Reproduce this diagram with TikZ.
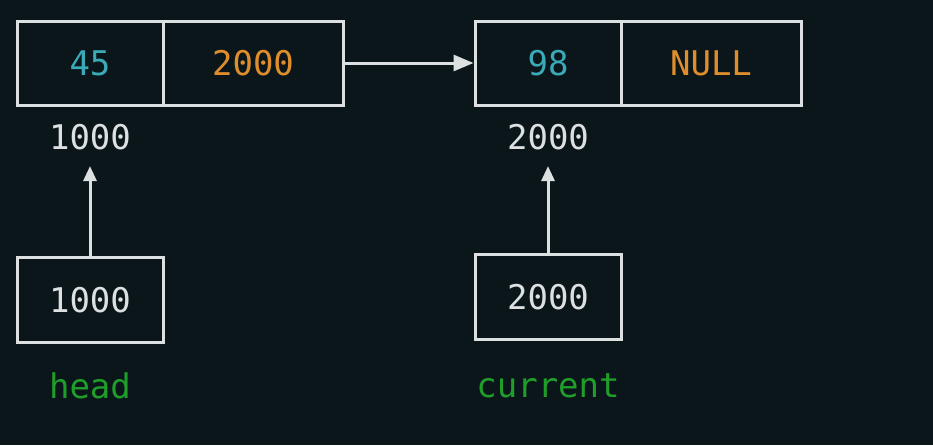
\documentclass[tikz,border=0pt]{standalone}
\usepackage{fontspec}
\setmonofont{DejaVu Sans Mono}
\usetikzlibrary{arrows.meta}
\definecolor{bg}{HTML}{0B161B}
\definecolor{edge}{HTML}{DCE0E0}
\definecolor{val}{HTML}{3AA9B8}
\definecolor{ptr}{HTML}{E08E2B}
\definecolor{name}{HTML}{1F9E2A}
\begin{document}
\begin{tikzpicture}[x=1pt,y=-1pt,
  txt/.style={inner sep=0pt,font=\ttfamily\fontsize{34}{34}\selectfont},
  cell/.style={txt,draw=edge,line width=3pt,minimum height=84pt},
  arr/.style={draw=edge,line width=3pt}]
  \def\W{146}
  \def\w{180}

  \fill[bg] (0,0) rectangle (933,445);
  \useasboundingbox (0,0) rectangle (933,445);

  % the two list nodes
  \node[cell,minimum width=\W,text=val] (data1) at (90,63)  {45};
  \node[cell,minimum width=\w,text=ptr] (next1) at (253,63) {2000};
  \node[cell,minimum width=\W,text=val] (data2) at (548,63) {98};
  \node[cell,minimum width=\w,text=ptr] (next2) at (711,63) {NULL};

  \node[txt,text=edge] (addr1) at (90,137)  {1000};
  \node[txt,text=edge] (addr2) at (548,137) {2000};

  % the pointers
  \node[cell,minimum width=\W,minimum height=85,text=edge] (head) at (90,300) {1000};
  \node[cell,minimum width=\W,minimum height=85,text=edge] (current) at (548,297) {2000};
  \node[txt,text=name] (headname) at (90,386) {head};
  \node[txt,text=name] (curname)  at (548,386) {current};

  \draw[arr,-{Triangle[length=20pt,width=16pt]}] (next1.east) -- (data2.west);
  \draw[arr,-{Triangle[length=15pt,width=13pt]}, shorten >= 16] (head.north) -- (addr1.south);
  \draw[arr,-{Triangle[length=15pt,width=13pt]}, shorten >= 16] (current.north) -- (addr2.south);

\end{tikzpicture}
\end{document}
